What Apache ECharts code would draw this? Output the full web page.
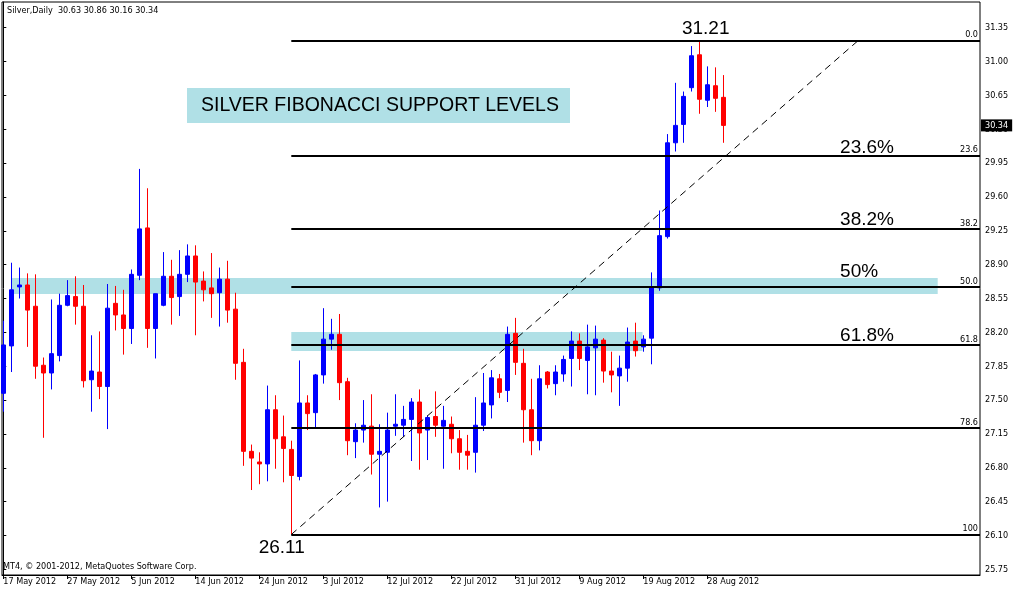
<!DOCTYPE html>
<html><head><meta charset="utf-8">
<script src="https://cdn.jsdelivr.net/npm/echarts@6/dist/echarts.min.js"></script>
<style>html,body{margin:0;padding:0;background:#fff}#c{width:1018px;height:592px}</style>
</head><body><div id="c"></div>
<script>
const categories = [
 '17 May 2012','18 May 2012','20 May 2012','21 May 2012','22 May 2012','23 May 2012','24 May 2012','25 May 2012','27 May 2012','28 May 2012','29 May 2012','30 May 2012','31 May 2012',
 '1 Jun 2012','3 Jun 2012','4 Jun 2012','5 Jun 2012','6 Jun 2012','7 Jun 2012','8 Jun 2012','10 Jun 2012','11 Jun 2012','12 Jun 2012','13 Jun 2012','14 Jun 2012','15 Jun 2012','17 Jun 2012','18 Jun 2012','19 Jun 2012','20 Jun 2012','21 Jun 2012','22 Jun 2012','24 Jun 2012','25 Jun 2012','26 Jun 2012','27 Jun 2012','28 Jun 2012','29 Jun 2012',
 '1 Jul 2012','2 Jul 2012','3 Jul 2012','4 Jul 2012','5 Jul 2012','6 Jul 2012','8 Jul 2012','9 Jul 2012','10 Jul 2012','11 Jul 2012','12 Jul 2012','13 Jul 2012','15 Jul 2012','16 Jul 2012','17 Jul 2012','18 Jul 2012','19 Jul 2012','20 Jul 2012','22 Jul 2012','23 Jul 2012','24 Jul 2012','25 Jul 2012','26 Jul 2012','27 Jul 2012','29 Jul 2012','30 Jul 2012','31 Jul 2012',
 '1 Aug 2012','2 Aug 2012','3 Aug 2012','5 Aug 2012','6 Aug 2012','7 Aug 2012','8 Aug 2012','9 Aug 2012','10 Aug 2012','12 Aug 2012','13 Aug 2012','14 Aug 2012','15 Aug 2012','16 Aug 2012','17 Aug 2012','19 Aug 2012','20 Aug 2012','21 Aug 2012','22 Aug 2012','23 Aug 2012','24 Aug 2012','26 Aug 2012','27 Aug 2012','28 Aug 2012','29 Aug 2012','30 Aug 2012'
];
const opens = [27.57,28.06,28.67,28.69,28.47,27.86,27.78,27.96,28.48,28.57,28.47,27.71,27.79,27.64,28.50,28.38,28.24,28.79,29.28,28.24,28.48,28.78,28.57,28.80,28.99,28.73,28.66,28.61,28.75,28.44,27.89,26.97,26.86,26.84,27.40,27.12,26.99,26.71,27.47,27.37,27.76,28.13,28.18,27.69,27.07,27.19,27.23,26.94,26.96,27.23,27.24,27.30,27.48,27.19,27.33,27.23,27.25,27.10,26.97,26.96,27.24,27.45,27.72,27.60,28.19,27.88,27.40,27.08,27.79,27.67,27.77,27.93,28.11,27.91,28.04,28.12,27.80,27.75,27.83,28.11,28.05,28.14,28.66,29.19,30.16,30.35,30.73,31.07,30.60,30.75,30.63];
const highs = [28.32,28.92,28.87,28.81,28.80,27.94,28.54,28.60,28.74,28.78,28.69,28.17,28.21,28.70,28.68,28.64,28.85,29.89,29.69,28.60,29.03,28.95,29.05,29.11,29.10,28.83,29.02,28.87,28.94,28.61,28.03,27.04,26.96,27.65,27.55,27.34,27.08,27.91,27.55,27.77,28.45,28.34,28.39,27.73,27.26,27.50,27.56,27.25,27.37,27.56,27.44,27.52,27.61,27.34,27.59,27.44,27.33,27.19,27.14,27.53,27.78,27.81,27.77,28.26,28.35,28.03,27.72,27.86,27.80,27.86,27.96,28.21,28.19,28.28,28.27,28.14,28.00,27.96,28.25,28.30,28.17,28.82,29.46,30.25,30.78,30.69,31.16,31.21,30.95,30.94,30.86];
const lows = [27.38,27.79,28.55,28.05,27.72,27.11,27.61,27.90,28.47,28.28,27.63,27.38,27.51,27.20,28.22,27.97,28.08,28.74,28.04,27.93,28.47,28.28,28.37,28.72,28.17,28.52,28.35,28.26,28.30,27.71,26.82,26.57,26.63,26.66,26.79,26.65,26.11,26.67,27.19,27.21,27.67,28.02,27.50,26.93,26.90,27.06,26.73,26.39,26.45,27.13,27.12,26.87,26.78,26.88,27.12,26.79,26.95,26.78,26.78,26.75,27.18,27.31,27.52,27.48,27.76,27.06,26.93,26.98,27.62,27.55,27.69,27.64,27.81,27.56,27.55,27.68,27.58,27.44,27.69,27.95,28.00,27.87,28.63,29.17,30.07,30.16,30.69,30.46,30.53,30.48,30.16];
const closes = [28.07,28.64,28.69,28.43,27.85,27.78,27.98,28.48,28.58,28.47,27.70,27.80,27.64,28.45,28.38,28.24,28.80,29.27,28.24,28.60,28.78,28.56,28.80,28.99,28.72,28.64,28.60,28.75,28.43,27.88,26.97,26.90,26.84,27.40,27.10,27.00,26.72,27.47,27.36,27.76,28.13,28.18,27.68,27.08,27.19,27.24,26.94,26.97,27.19,27.25,27.30,27.48,27.16,27.32,27.24,27.29,27.10,26.96,26.93,27.24,27.47,27.73,27.58,28.18,27.89,27.40,27.08,27.72,27.66,27.79,27.92,28.11,27.93,28.05,28.13,27.80,27.76,27.83,28.10,28.01,28.13,28.67,29.20,30.16,30.34,30.64,31.06,30.61,30.76,30.62,30.34];
const xTickIndex = [0,8,16,24,32,40,48,56,64,72,80,88];
const yTicks = [25.75,26.10,26.45,26.80,27.15,27.50,27.85,28.20,28.55,28.90,29.25,29.60,29.95,30.30,30.65,31.00,31.35];
const fibNames = ['0.0','23.6','38.2','50.0','61.8','78.6','100'];
const fibPrices = [31.22,30.03,29.27,28.67,28.07,27.21,26.11];
const fibPercentLabels = ['23.6%','38.2%','50%','61.8%'];
const swingLow = {index: 36, price: 26.11};
const swingHighLabel = '31.21', swingLowLabel = '26.11';
const supportBands = [[28.597, 28.762], [28.007, 28.204]];
const lastPrice = 30.34;

const X_MIN = -0.1625, X_MAX = 122.0875;
const Y_MIN = 25.6914, Y_MAX = 31.6157;
const smallFont = "'DejaVu Sans Condensed','DejaVu Sans',sans-serif";
const bigFont = "'Liberation Sans',Arial,sans-serif";

const candleData = opens.map((o, i) => [i, o, closes[i], lows[i], highs[i]]);
const n = opens.length - 1;

const fibLineData = fibPrices.map((p, i) => [
  {name: fibNames[i], coord: [swingLow.index, p]},
  {coord: [X_MAX, p]}
]);
fibLineData.push([
  {coord: [swingLow.index, swingLow.price], name: '', lineStyle: {type: [7, 5], width: 1, color: '#000'}, label: {show: false}},
  {coord: [106.9, fibPrices[0]]}
]);

const pctOffsets = [-8, -9, -15, -9];
const markPoints = fibPercentLabels.map((t, i) => ({
  coord: [104.6, fibPrices[i + 1]], value: 0,
  label: {formatter: t, align: 'left', offset: [0, pctOffsets[i]]}
}));
markPoints.push({coord: [87.8, fibPrices[0]], value: 0, label: {formatter: swingHighLabel, align: 'center', offset: [0, -12]}});
markPoints.push({coord: [34.8, swingLow.price], value: 0, label: {formatter: swingLowLabel, align: 'center', offset: [0, 13]}});

const chart = echarts.init(document.getElementById('c'));
chart.setOption({
  animation: false,
  backgroundColor: '#fff',
  grid: {left: 2, top: 2, width: 978, height: 573, show: true, borderColor: '#000', borderWidth: 1},
  xAxis: {
    type: 'value', min: X_MIN, max: X_MAX,
    axisLine: {show: true, lineStyle: {color: '#000', width: 1}},
    axisTick: {show: true, customValues: xTickIndex, length: 4, lineStyle: {color: '#000'}},
    axisLabel: {customValues: xTickIndex, formatter: v => categories[Math.round(v)], align: 'left', margin: 2,
      color: '#000', fontSize: 9, fontFamily: smallFont},
    splitLine: {show: false}
  },
  yAxis: {
    type: 'value', position: 'right', min: Y_MIN, max: Y_MAX, scale: true,
    axisLine: {show: true, lineStyle: {color: '#000', width: 1}},
    axisTick: {show: true, customValues: yTicks, length: 3, lineStyle: {color: '#000'}},
    axisLabel: {customValues: yTicks, formatter: v => v.toFixed(2), margin: 5, color: '#000', fontSize: 9, fontFamily: smallFont},
    splitLine: {show: false}
  },
  graphic: [
    {type: 'text', left: 7, top: 6, z: 10, style: {text: 'Silver,Daily  ' + [opens[n], highs[n], lows[n], closes[n]].map(v => v.toFixed(2)).join(' '), fill: '#000', font: '9px ' + smallFont}},
    {type: 'text', left: 3, top: 562, z: 10, style: {text: 'MT4, \u00a9 2001-2012, MetaQuotes Software Corp.', fill: '#000', font: '9px ' + smallFont}},
    {type: 'group', left: 187, top: 88, z: 10, children: [
      {type: 'rect', shape: {x: 0, y: 0, width: 383, height: 35}, style: {fill: '#b0e0e6'}},
      {type: 'text', style: {x: 14, y: 18, text: 'SILVER FIBONACCI SUPPORT LEVELS', fill: '#000', font: '19.5px ' + bigFont, verticalAlign: 'middle'}}
    ]}
  ],
  series: [
    {
      type: 'line', data: [], z: 1, silent: true,
      markArea: {silent: true, itemStyle: {color: '#b0e0e6', opacity: 1},
        data: [
          [{coord: [1.05, supportBands[0][0]]}, {coord: [116.8, supportBands[0][1]]}],
          [{coord: [swingLow.index, supportBands[1][0]]}, {coord: [79.9, supportBands[1][1]]}]
        ]}
    },
    {
      type: 'candlestick', name: 'Silver', data: candleData, encode: {x: 0, y: [1, 2, 3, 4]},
      barWidth: 4, z: 2,
      itemStyle: {color: '#0000ff', color0: '#ff0000', borderColor: '#0000ff', borderColor0: '#ff0000', borderWidth: 1}
    },
    {
      type: 'line', data: [], z: 5, silent: true,
      markLine: {
        silent: true, symbol: ['none', 'none'], precision: 2,
        lineStyle: {color: '#000', width: 2, type: 'solid'},
        label: {show: true, position: 'insideEndTop', distance: [2, 1], formatter: p => p.name,
          color: '#000', fontSize: 9, fontFamily: smallFont},
        data: fibLineData
      },
      markPoint: {
        silent: true, symbol: 'rect', symbolSize: 1, itemStyle: {color: 'rgba(0,0,0,0)'},
        label: {show: true, position: 'inside', color: '#000', fontSize: 19, fontFamily: bigFont, verticalAlign: 'middle'},
        data: markPoints
      }
    },
    {
      type: 'line', data: [], z: 20, silent: true,
      markLine: {
        silent: true, symbol: ['none', 'none'],
        lineStyle: {color: 'rgba(0,0,0,0)', width: 1, type: 'solid'},
        label: {show: true, position: 'end', distance: 1, formatter: lastPrice.toFixed(2),
          backgroundColor: '#000', color: '#fff', padding: [2, 4, 1, 4], fontSize: 9, fontFamily: smallFont},
        data: [[{coord: [X_MIN, lastPrice]}, {coord: [X_MAX, lastPrice]}]]
      }
    }
  ]
});
</script>
</body></html>
